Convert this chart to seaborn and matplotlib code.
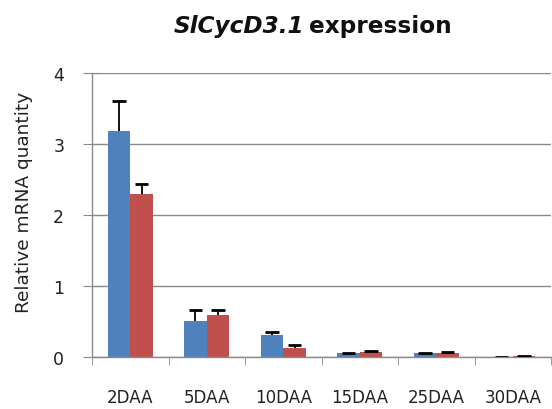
import pandas as pd
import numpy as np
import seaborn as sns
import matplotlib.pyplot as plt
from matplotlib.ticker import MultipleLocator, FixedLocator

stages = ['2DAA', '5DAA', '10DAA', '15DAA', '25DAA', '30DAA']
series = ['Series 1', 'Series 2']
blue_vals = [3.18, 0.51, 0.31, 0.05, 0.05, 0.0]
blue_err = [0.43, 0.15, 0.04, 0.01, 0.01, 0.0]
red_vals = [2.30, 0.59, 0.12, 0.07, 0.06, 0.01]
red_err = [0.13, 0.07, 0.05, 0.02, 0.01, 0.01]

df = pd.DataFrame({
    'stage': stages * 2,
    'series': [series[0]] * len(stages) + [series[1]] * len(stages),
    'value': blue_vals + red_vals,
    'err': blue_err + red_err,
})

sns.set_style('white')
fig = plt.figure(figsize=(5.52, 4.10), dpi=100)
ax = fig.add_axes([0.1667, 0.1268, 0.8315, 0.6927])

sns.barplot(data=df, x='stage', y='value', hue='series', order=stages,
            hue_order=series, palette=['#4F81BD', '#C0504D'], width=0.59,
            gap=0, errorbar=None, saturation=1, legend=False, ax=ax,
            edgecolor='none', linewidth=0)

# upper error bars only, like the Excel original
for cont, s in zip(ax.containers, series):
    sub = df[df['series'] == s].set_index('stage').loc[stages]
    xs = np.array([p.get_x() + p.get_width() / 2 for p in cont.patches])
    tops = sub['value'].values + sub['err'].values
    ax.vlines(xs, sub['value'].values, tops, color='black', linewidth=1.3,
              zorder=4)
    ax.hlines(tops, xs - 0.09, xs + 0.09, color='black', linewidth=2,
              zorder=4)

ax.set_xlim(-0.5, 5.5)
ax.set_ylim(0, 4)
ax.yaxis.set_major_locator(MultipleLocator(1))
ax.grid(axis='y', color='#8a8a8a', linewidth=1)
ax.set_axisbelow(True)
for side in ['top', 'right']:
    ax.spines[side].set_visible(False)
for side in ['left', 'bottom']:
    ax.spines[side].set_color('#8a8a8a')
    ax.spines[side].set_linewidth(1)

ax.xaxis.set_minor_locator(FixedLocator(np.arange(-0.5, 6, 1)))
ax.tick_params(axis='x', which='major', length=0, pad=22, labelsize=12,
               labelcolor='#222222')
ax.tick_params(axis='x', which='minor', length=6, color='#8a8a8a',
               direction='out', bottom=True)
ax.tick_params(axis='y', length=13, color='#8a8a8a', direction='inout',
               left=True, labelsize=12.5, pad=13.5, labelcolor='#222222')

ax.set_xlabel('')
ax.set_ylabel('Relative mRNA quantity', fontsize=13.3, color='#222222')
ax.yaxis.set_label_coords(-0.128, 0.549)

fig.text(0.551, 1 - 33 / 410, 'SlCycD3.1', ha='right', va='baseline',
         fontsize=16.7, fontweight='bold', fontstyle='italic', color='#111111')
fig.text(0.560, 1 - 33 / 410, 'expression', ha='left', va='baseline',
         fontsize=16.7, fontweight='bold', color='#111111')

fig.savefig('out.png', dpi=100)
